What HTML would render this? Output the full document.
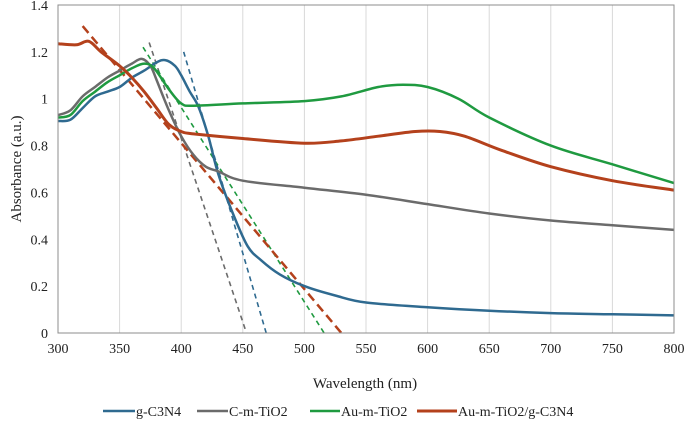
<!DOCTYPE html>
<html><head><meta charset="utf-8"><style>
body{margin:0;background:#fff;}
svg text{font-family:"Liberation Serif",serif;fill:#222;}
</style></head><body>
<svg id="chart" width="685" height="422" xmlns="http://www.w3.org/2000/svg">
<g id="grid"></g><g id="series"></g><g id="axes"></g><g id="legend"></g>
</svg>
<script>
const xTicks=[300,350,400,450,500,550,600,650,700,750,800];
const yTicks=[0,0.2,0.4,0.6,0.8,1,1.2,1.4];
const seriesNames=["g-C3N4","C-m-TiO2","Au-m-TiO2","Au-m-TiO2/g-C3N4"];
const seriesColors=["#2f6a90","#6b6b6b","#1f9a40","#b4411c"];
const gcnX=[300,310,320,330,340,350,360,370,380,387,395,400,407,414,422,430,442,454,465,480,500,525,550,600,650,700,750,800];
const gcnY=[0.905,0.91,0.96,1.01,1.03,1.05,1.09,1.12,1.155,1.165,1.14,1.1,1.03,0.966,0.84,0.68,0.51,0.37,0.31,0.25,0.2,0.16,0.13,0.11,0.095,0.085,0.08,0.075];
const cmX=[300,310,320,330,340,350,360,368,375,380,390,400,410,420,430,450,500,550,600,650,700,750,800];
const cmY=[0.93,0.95,1.01,1.05,1.09,1.12,1.15,1.17,1.14,1.08,0.95,0.84,0.76,0.71,0.69,0.65,0.62,0.59,0.55,0.51,0.48,0.46,0.44];
const auX=[300,310,320,330,340,350,360,370,378,390,400,410,450,500,530,560,580,600,625,650,700,750,800];
const auY=[0.92,0.93,0.99,1.03,1.07,1.1,1.13,1.15,1.13,1.04,0.98,0.97,0.98,0.99,1.01,1.05,1.06,1.05,1.0,0.92,0.8,0.72,0.64];
const compX=[300,315,325,335,350,360,370,380,390,400,410,450,500,530,560,590,610,630,660,700,750,800];
const compY=[1.235,1.23,1.245,1.2,1.14,1.09,1.03,0.96,0.89,0.86,0.85,0.83,0.81,0.82,0.84,0.86,0.86,0.84,0.78,0.71,0.65,0.61];
const fitX1=[402,374,369,320];
const fitY1=[1.2,1.24,1.22,1.31];
const fitX2=[469,453,516,530];
const fitY2=[0,0,0,0];

const L=58,R=674,T=5,B=333;
const sx=v=>L+(v-300)/500*(R-L);
const sy=v=>B-v/1.4*(B-T);
const NS="http://www.w3.org/2000/svg";
function mk(tag,attrs,parent,text){const e=document.createElementNS(NS,tag);for(const k in attrs)e.setAttribute(k,attrs[k]);if(text!=null)e.textContent=text;parent.appendChild(e);return e;}
function smooth(p){let d='M'+p[0][0].toFixed(1)+','+p[0][1].toFixed(1);
 for(let i=0;i<p.length-1;i++){const p0=p[i-1]||p[i],p1=p[i],p2=p[i+1],p3=p[i+2]||p2;
 const c1=[p1[0]+(p2[0]-p0[0])/6,p1[1]+(p2[1]-p0[1])/6],c2=[p2[0]-(p3[0]-p1[0])/6,p2[1]-(p3[1]-p1[1])/6];
 d+=' C'+c1[0].toFixed(1)+','+c1[1].toFixed(1)+' '+c2[0].toFixed(1)+','+c2[1].toFixed(1)+' '+p2[0].toFixed(1)+','+p2[1].toFixed(1);}
 return d;}
const grid=document.getElementById('grid'),ser=document.getElementById('series'),ax=document.getElementById('axes'),leg=document.getElementById('legend');
xTicks.forEach(t=>{
 if(t>300&&t<800){const g=mk('line',{x1:sx(t),x2:sx(t),y1:T,y2:B,stroke:'#d9d9d9','stroke-width':1},grid);
 
 }
 const lb=mk('text',{x:sx(t),y:B+20,'text-anchor':'middle','font-size':14},ax,t);
 
 
});
yTicks.forEach(t=>{
 const lb=mk('text',{x:L-10,y:sy(t)+5,'text-anchor':'end','font-size':14},ax,String(t));
 
 
});
const frame=mk('rect',{x:L,y:T,width:R-L,height:B-T,fill:'none',stroke:'#8c8c8c','stroke-width':1},ax);


const xt=mk('text',{x:365,y:388,'text-anchor':'middle','font-size':15},ax,'Wavelength (nm)');


const yt=mk('text',{x:0,y:0,'text-anchor':'middle','font-size':15,transform:'translate(21,169) rotate(-90)'},ax,'Absorbance (a.u.)');



const allX=[gcnX,cmX,auX,compX],allY=[gcnY,cmY,auY,compY];
const widths=[2.5,2.5,2.5,3];
const slugs=['g-c3n4','c-m-tio2','au-m-tio2','au-m-tio2-g-c3n4'];
for(let i=0;i<4;i++){
 const f=mk('line',{x1:sx(fitX1[i]),y1:sy(fitY1[i]),x2:sx(fitX2[i]),y2:sy(fitY2[i]),stroke:seriesColors[i],'stroke-width':i==3?2.5:1.6,'stroke-dasharray':i==3?'9,5':'5,4'},ser);
 
 
}
for(let i=0;i<4;i++){
 const pts=allX[i].map((x,j)=>[sx(x),sy(allY[i][j])]);
 const p=mk('path',{d:smooth(pts),fill:'none',stroke:seriesColors[i],'stroke-width':widths[i],'stroke-linejoin':'round'},ser);
 
 
}
const legX=[103,197,310,417],legW=[32,31,30,40];
for(let i=0;i<4;i++){
 const g=mk('g',{},leg);
 
 
 mk('line',{x1:legX[i],x2:legX[i]+legW[i],y1:411,y2:411,stroke:seriesColors[i],'stroke-width':i==3?3:2.5},g);
 mk('text',{x:legX[i]+legW[i]+1,y:416,'font-size':14},g,seriesNames[i]);
}
</script>
</body></html>
